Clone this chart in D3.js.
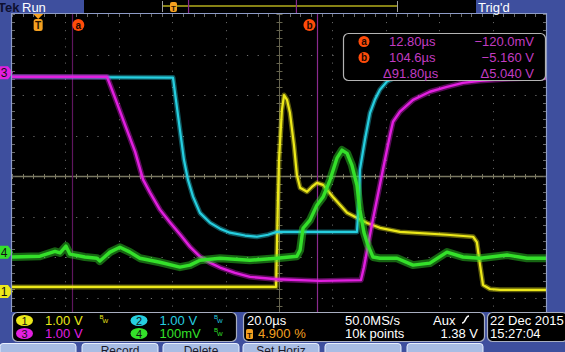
<!DOCTYPE html>
<html>
<head>
<meta charset="utf-8">
<script src="https://cdn.jsdelivr.net/npm/d3@7"></script>
<style>
  html, body { margin: 0; padding: 0; background: #3e4f9e; overflow: hidden; }
  svg { display: block; font-family: "Liberation Sans", Arial, sans-serif; }
</style>
</head>
<body>
<svg id="scope" width="565" height="352"></svg>
<script>
// ---- acquisition settings ----
const timePerDiv = 20;          // us/div
const triggerPct = 4.9;         // trigger position in %
const chNames = ["1", "2", "3", "4"];
const chScaleLabels = ["1.00 V", "1.00 V", "1.00 V", "100mV"];
const chUnitsPerDiv = [1, 1, 1, 100];       // V/div (ch4 in mV/div)
const chPositionDiv = [-2.85, 2.55, 2.55, -1.88];

// ---- waveforms: [time us, value] ----
const ch1Points = [[-9.8, 0.11], [89.1, 0.11], [89.4, 1.02], [89.8, 2.26], [90.2, 3.25], [91.3, 4.48], [92.1, 4.85], [93.2, 4.73], [94.3, 4.41], [95.8, 3.62], [96.9, 2.88], [98.1, 2.56], [100.7, 2.46], [102.5, 2.58], [104.4, 2.68], [106.7, 2.63], [110.4, 2.33], [115.7, 1.94], [123.2, 1.69], [128.0, 1.57], [135.5, 1.47], [153.1, 1.40], [162.9, 1.35], [164.3, 1.22], [165.5, 0.65], [166.6, 0.16], [169.2, 0.06], [173.0, 0.04], [190.2, 0.04]];
const ch2Points = [[-9.8, -0.10], [50.5, -0.12], [51.6, -0.67], [53.1, -1.41], [54.6, -2.15], [56.1, -2.64], [58.0, -3.06], [60.6, -3.46], [64.3, -3.70], [68.1, -3.85], [71.8, -3.95], [77.5, -4.02], [81.9, -4.05], [86.1, -4.00], [89.4, -3.93], [119.4, -3.93], [120.2, -3.14], [120.5, -2.40], [122.4, -1.65], [124.3, -0.99], [126.1, -0.67], [128.0, -0.42], [130.6, -0.22], [133.6, -0.12], [190.2, -0.10]];
const ch3Points = [[-9.8, -0.10], [25.8, -0.10], [28.8, -0.62], [32.5, -1.28], [36.3, -1.95], [39.3, -2.64], [41.9, -2.96], [45.6, -3.38], [49.4, -3.70], [53.1, -3.99], [56.9, -4.30], [60.6, -4.54], [64.3, -4.69], [68.1, -4.81], [73.7, -4.94], [79.3, -5.04], [89.4, -5.10], [105.5, -5.14], [120.9, -5.12], [122.0, -4.81], [125.0, -3.75], [129.1, -2.40], [131.8, -1.53], [132.9, -1.21], [135.5, -0.96], [140.4, -0.67], [146.7, -0.47], [153.1, -0.35], [159.1, -0.25], [165.5, -0.20], [176.7, -0.15], [190.2, -0.12]];
const ch4Points = [[-9.8, -12], [0.7, -10], [6.3, 2], [8.2, -2], [10.4, 15], [11.9, -5], [17.5, -12], [22.0, -15], [23.1, -22], [26.9, 0], [30.6, 12], [34.4, 0], [38.1, -15], [45.6, -25], [53.1, -37], [56.9, -32], [60.6, -20], [68.1, -15], [79.3, -20], [89.4, -15], [96.9, -10], [98.1, 5], [99.2, 59], [101.8, 79], [104.4, 116], [106.7, 136], [109.3, 178], [111.9, 232], [113.8, 252], [115.7, 244], [117.5, 215], [119.4, 165], [120.5, 104], [122.0, 49], [123.5, 17], [125.4, -12], [128.0, -15], [134.4, -15], [140.4, -32], [146.7, -27], [153.1, 0], [159.1, -12], [165.5, -15], [175.6, -7], [183.1, -15], [190.2, -15]];

// ---- cursors ----
const cursorNames = ["a", "b"];
const cursorTimes = [12.8, 104.6];
const readoutTimes = ["12.80µs", "104.6µs", "Δ91.80µs"];
const readoutValues = ["−120.0mV", "−5.160 V", "Δ5.040 V"];

// ---- status readouts ----
const horizLabels = ["20.0µs", "4.900 %", "50.0MS/s", "10k points", "Aux", "1.38 V"];
const dateLabels = ["22 Dec 2015", "15:27:04"];
const softkeyLabels = ["", "Record", "Delete", "Set Horiz", "", ""];

const chColors = ["#ece81a", "#26cfe0", "#e21fe0", "#34e02a"];

const svg = d3.select("#scope");
const W = 565, H = 352;
const plot = { left: 12, right: 546, top: 14, bottom: 312 };
const divPx = 40.5, centerY = 176;

const x = d3.scaleLinear()
    .domain([-triggerPct / 100 * 10 * timePerDiv, (1 - triggerPct / 100) * 10 * timePerDiv])
    .range([plot.left, plot.right]);
const yDiv = d3.scaleLinear().domain([-4, 4]).range([centerY + 4 * divPx, centerY - 4 * divPx]);
const divW = (plot.right - plot.left) / 10;

// frame background
svg.append("rect").attr("width", W).attr("height", H).attr("fill", "#3e4f9e");
svg.append("rect")
    .attr("x", plot.left).attr("y", plot.top)
    .attr("width", plot.right - plot.left).attr("height", plot.bottom - plot.top)
    .attr("fill", "#000");

svg.append("clipPath").attr("id", "clip")
    .append("rect")
    .attr("x", plot.left).attr("y", plot.top)
    .attr("width", plot.right - plot.left).attr("height", plot.bottom - plot.top);

const grid = svg.append("g").attr("clip-path", "url(#clip)");

// dotted division lines
const gridTimes = d3.range(1, 10).map(i => x.domain()[0] + i * timePerDiv);
grid.selectAll(".vgrid")
    .data(gridTimes.filter((d, i) => i !== 4))
    .enter().append("line")
    .attr("x1", d => Math.round(x(d)) + 0.5).attr("x2", d => Math.round(x(d)) + 0.5)
    .attr("y1", plot.top).attr("y2", plot.bottom)
    .attr("stroke", "#707070").attr("stroke-width", 1)
    .attr("stroke-dasharray", `1 ${divPx / 5 - 1}`);

grid.selectAll(".hgrid")
    .data([-3, -2, -1, 1, 2, 3])
    .enter().append("line")
    .attr("x1", plot.left).attr("x2", plot.right)
    .attr("y1", d => Math.round(yDiv(d)) + 0.5).attr("y2", d => Math.round(yDiv(d)) + 0.5)
    .attr("stroke", "#707070").attr("stroke-width", 1)
    .attr("stroke-dasharray", `1.2 ${divW / 5 - 1.2}`);

// center cross with minor ticks
const cx0 = Math.round(x(x.domain()[0] + 5 * timePerDiv)) + 0.5;
grid.append("line")
    .attr("x1", plot.left).attr("x2", plot.right)
    .attr("y1", centerY + 0.5).attr("y2", centerY + 0.5)
    .attr("stroke", "#7a7862").attr("stroke-width", 1.3);
grid.append("line")
    .attr("x1", cx0).attr("x2", cx0)
    .attr("y1", plot.top).attr("y2", plot.bottom)
    .attr("stroke", "#66644f").attr("stroke-width", 1);

const minorX = d3.range(0, 51).map(i => plot.left + i * divW / 5);
const minorY = d3.range(0, 46).map(i => plot.top + i * divPx / 5);
grid.selectAll(".tickh")
    .data(minorX).enter().append("line")
    .attr("x1", d => Math.round(d) + 0.5).attr("x2", d => Math.round(d) + 0.5)
    .attr("y1", centerY - 2).attr("y2", centerY + 3)
    .attr("stroke", "#7a7862");
grid.selectAll(".tickv")
    .data(minorY).enter().append("line")
    .attr("x1", cx0 - 3).attr("x2", cx0 + 3)
    .attr("y1", d => Math.round(d) + 0.5).attr("y2", d => Math.round(d) + 0.5)
    .attr("stroke", "#66644f");
// edge ticks
grid.selectAll(".tickt")
    .data(minorX).enter().append("line")
    .attr("x1", d => Math.round(d) + 0.5).attr("x2", d => Math.round(d) + 0.5)
    .attr("y1", plot.top).attr("y2", plot.top + 3)
    .attr("stroke", "#6a6a6a");
grid.selectAll(".tickl")
    .data(minorY).enter().append("line")
    .attr("x1", plot.left).attr("x2", plot.left + 3)
    .attr("y1", d => Math.round(d) + 0.5).attr("y2", d => Math.round(d) + 0.5)
    .attr("stroke", "#6a6a6a");
grid.selectAll(".tickr")
    .data(minorY).enter().append("line")
    .attr("x1", plot.right - 3).attr("x2", plot.right)
    .attr("y1", d => Math.round(d) + 0.5).attr("y2", d => Math.round(d) + 0.5)
    .attr("stroke", "#6a6a6a");

// cursor lines
const cursorLineColors = ["#5e165e", "#8a2a8e"];
grid.selectAll(".cursor")
    .data(cursorTimes).enter().append("line")
    .attr("x1", d => Math.round(x(d)) + 0.5).attr("x2", d => Math.round(x(d)) + 0.5)
    .attr("y1", plot.top).attr("y2", plot.bottom)
    .attr("stroke", (d, i) => cursorLineColors[i]).attr("stroke-width", 1.2);

// traces (wide faint band + bright core, like the noisy phosphor trace)
const traces = svg.append("g").attr("clip-path", "url(#clip)");
const allPoints = [ch1Points, ch2Points, ch3Points, ch4Points];
const glowW = [5, 5, 5.5, 8];
const glowO = [0.4, 0.4, 0.4, 0.45];
const coreW = [2.2, 2.2, 2.4, 3.4];
allPoints.forEach((pts, i) => {
    const line = d3.line()
        .x(d => x(d[0]))
        .y(d => yDiv(d[1] / chUnitsPerDiv[i] + chPositionDiv[i]));
    traces.append("path").datum(pts)
        .attr("d", line).attr("fill", "none")
        .attr("stroke", chColors[i]).attr("stroke-opacity", glowO[i])
        .attr("stroke-width", glowW[i]).attr("stroke-linejoin", "round");
    traces.append("path").datum(pts)
        .attr("d", line).attr("fill", "none")
        .attr("stroke", chColors[i])
        .attr("stroke-width", coreW[i]).attr("stroke-linejoin", "round");
});

// cursor labels on graticule
const cursorLabelDx = [6, -8];
cursorTimes.forEach((t, i) => {
    const g = svg.append("g").attr("transform", `translate(${x(t) + cursorLabelDx[i]},25)`);
    g.append("circle").attr("r", 6).attr("fill", "#ff4c0a");
    g.append("text").attr("y", 3.5).attr("text-anchor", "middle")
        .attr("font-size", 10).attr("font-weight", "bold").attr("fill", "#200800")
        .text(cursorNames[i]);
});

// trigger position marker
const tX = x(0);
svg.append("path")
    .attr("d", `M${tX - 5},${plot.top} L${tX + 5},${plot.top} L${tX},${plot.top + 5} Z`)
    .attr("fill", "#f4a020");
svg.append("rect").attr("x", tX - 4.5).attr("y", 19).attr("width", 9).attr("height", 12).attr("rx", 2.5)
    .attr("fill", "#f4a020");
svg.append("text").attr("x", tX).attr("y", 29).attr("text-anchor", "middle")
    .attr("font-size", 10).attr("font-weight", "bold").attr("fill", "#2a1500").text("T");

// channel ground markers
const markerShape = "M-3,-6.5 L8,-6.5 L13,0 L8,6.5 L-3,6.5 Z";
[0, 2, 3].forEach(i => {
    const g = svg.append("g").attr("transform", `translate(0,${yDiv(chPositionDiv[i])})`);
    g.append("path").attr("d", markerShape).attr("fill", chColors[i]);
    g.append("text").attr("x", 4).attr("y", 4.5).attr("text-anchor", "middle")
        .attr("font-size", 12).attr("fill", "#111").text(chNames[i]);
});

// graticule border
svg.append("path")
    .attr("d", `M${plot.left - 0.5},${plot.bottom} V${plot.top - 0.5} H${plot.right + 0.5} V${plot.bottom}`)
    .attr("fill", "none").attr("stroke", "#8e9cc8").attr("stroke-width", 1.2);

// cursor readout box
const rb = svg.append("g");
rb.append("rect").attr("x", 343.5).attr("y", 33.5).attr("width", 202).attr("height", 47).attr("rx", 5)
    .attr("fill", "#000").attr("stroke", "#b4b4b4").attr("stroke-width", 1.2);
const rowY = [46, 62, 78];
readoutTimes.forEach((s, i) => {
    rb.append("text").attr("x", i < 2 ? 389 : 383).attr("y", rowY[i])
        .attr("font-size", 13).attr("fill", "#c23cc2").text(s);
    rb.append("text").attr("x", 534).attr("y", rowY[i]).attr("text-anchor", "end")
        .attr("font-size", 13).attr("fill", "#c23cc2").text(readoutValues[i]);
});
cursorNames.forEach((n, i) => {
    rb.append("circle").attr("cx", 364).attr("cy", rowY[i] - 4.5).attr("r", 5.5).attr("fill", "#ff4c0a");
    rb.append("text").attr("x", 364).attr("y", rowY[i] - 1).attr("text-anchor", "middle")
        .attr("font-size", 10).attr("font-weight", "bold").attr("fill", "#200800").text(n);
});

// header
svg.append("text").attr("x", -2).attr("y", 11.5).attr("font-size", 13).attr("font-weight", "bold")
    .attr("fill", "#0e1030").text("Tek");
svg.append("text").attr("x", 22).attr("y", 11.5).attr("font-size", 13).attr("fill", "#fff").text("Run");
svg.append("rect").attr("x", 84).attr("y", 0).attr("width", 392).attr("height", 13).attr("fill", "#000");
svg.append("text").attr("x", 478).attr("y", 11.5).attr("font-size", 13).attr("fill", "#fff").text("Trig'd");

// record view
const rec = d3.scaleLinear().domain(x.domain()).range([162, 397]);
svg.append("line").attr("x1", rec.range()[0]).attr("x2", rec.range()[1]).attr("y1", 6).attr("y2", 6)
    .attr("stroke", "#b4ae1c").attr("stroke-width", 1.5);
rec.range().forEach(v => {
    svg.append("line").attr("x1", v + 0.5).attr("x2", v + 0.5).attr("y1", 1).attr("y2", 12)
        .attr("stroke", "#a0a0a0");
});
cursorTimes.forEach(t => {
    svg.append("line").attr("x1", rec(t)).attr("x2", rec(t)).attr("y1", 0).attr("y2", 13)
        .attr("stroke", "#8a2a8e").attr("stroke-width", 1.2);
});
svg.append("rect").attr("x", rec(0) - 3.5).attr("y", 2).attr("width", 7).attr("height", 10).attr("rx", 2)
    .attr("fill", "#f4a020");
svg.append("text").attr("x", rec(0)).attr("y", 10.5).attr("text-anchor", "middle")
    .attr("font-size", 8).attr("font-weight", "bold").attr("fill", "#2a1500").text("T");

// bottom readouts
const boxStroke = "#a8aec0";
function box(x0, w) {
    svg.append("rect").attr("x", x0 + 0.5).attr("y", 312.5).attr("width", w).attr("height", 29).attr("rx", 5)
        .attr("fill", "#000").attr("stroke", boxStroke).attr("stroke-width", 1.2);
}
box(12, 224);
box(243, 241);
box(487, 80);

const chRowY = [325, 338];
const chColX = [24.5, 139];
chNames.forEach((n, i) => {
    const cx = chColX[i % 2], y = chRowY[Math.floor(i / 2)];
    svg.append("ellipse").attr("cx", cx).attr("cy", y - 4.5).attr("rx", 8.5).attr("ry", 5.5).attr("fill", chColors[i]);
    svg.append("text").attr("x", cx).attr("y", y - 0.5).attr("text-anchor", "middle")
        .attr("font-size", 11).attr("fill", "#111").text(n);
    svg.append("text").attr("x", cx + 20.5).attr("y", y).attr("font-size", 13).attr("fill", chColors[i])
        .text(chScaleLabels[i]);
    if (i !== 2) {
        svg.append("text").attr("x", cx + 75).attr("y", y - 6).attr("font-size", 6).attr("fill", chColors[i]).text("B");
        svg.append("text").attr("x", cx + 78).attr("y", y - 2).attr("font-size", 6).attr("fill", chColors[i]).text("W");
    }
});

svg.append("text").attr("x", 247).attr("y", 325).attr("font-size", 13).attr("fill", "#fff").text(horizLabels[0]);
svg.append("rect").attr("x", 246).attr("y", 329).attr("width", 7).attr("height", 10).attr("rx", 1.5).attr("fill", "#f4a020");
svg.append("text").attr("x", 249.5).attr("y", 337.5).attr("text-anchor", "middle").attr("font-size", 8)
    .attr("font-weight", "bold").attr("fill", "#2a1500").text("T");
svg.append("text").attr("x", 258).attr("y", 338).attr("font-size", 13).attr("fill", "#f4a020").text(horizLabels[1]);
svg.append("text").attr("x", 345).attr("y", 325).attr("font-size", 13).attr("fill", "#fff").text(horizLabels[2]);
svg.append("text").attr("x", 345).attr("y", 338).attr("font-size", 13).attr("fill", "#fff").text(horizLabels[3]);
svg.append("text").attr("x", 433).attr("y", 325).attr("font-size", 13).attr("fill", "#fff").text(horizLabels[4]);
svg.append("path").attr("d", "M462,323 C466,323 465,316 469,316")
    .attr("fill", "none").attr("stroke", "#fff").attr("stroke-width", 1.5);
svg.append("text").attr("x", 478).attr("y", 338).attr("text-anchor", "end").attr("font-size", 13).attr("fill", "#fff").text(horizLabels[5]);
dateLabels.forEach((s, i) => {
    svg.append("text").attr("x", 490).attr("y", chRowY[i]).attr("font-size", 13).attr("fill", "#fff").text(s);
});

// softkey tabs
const tabX = [0, 82, 163, 243, 325, 407];
tabX.forEach((t, i) => {
    svg.append("rect").attr("x", t).attr("y", 343.5).attr("width", 76).attr("height", 14).attr("rx", 3)
        .attr("fill", "#a9bde4").attr("stroke", "#e8f0ff").attr("stroke-width", 1);
    svg.append("text").attr("x", t + 38).attr("y", 355).attr("text-anchor", "middle")
        .attr("font-size", 12).attr("fill", "#1a1a2a").text(softkeyLabels[i]);
});
</script>
</body>
</html>
